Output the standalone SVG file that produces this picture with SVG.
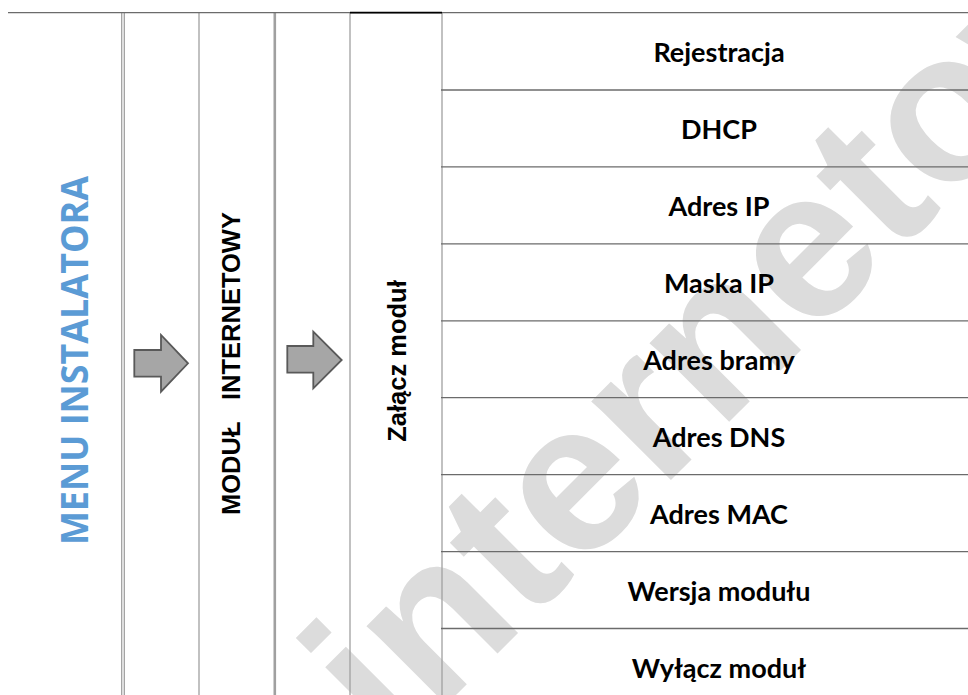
<svg xmlns="http://www.w3.org/2000/svg" width="968" height="695" viewBox="0 0 968 695">
<style>
.vl{stroke:#a0a0a0;stroke-width:1.3;fill:none}
.hl{stroke:#6b6b6b;stroke-width:1.3;fill:none}
.item{font-family:"Lato","Open Sans",sans-serif;font-weight:bold;font-size:27px;fill:#000;text-anchor:middle}
.vt{font-family:"Liberation Sans",Arial,sans-serif;font-weight:bold;font-size:25.5px;fill:#000}
.arrow{fill:#a6a6a6;stroke:#595959;stroke-width:1.8;stroke-linejoin:miter}
.wm{font-family:"Liberation Sans",Arial,sans-serif;font-weight:bold;font-size:212px;fill:#dcdcdc}
</style>
<rect width="968" height="695" fill="#fff"/>
<g id="watermark">
<text class="wm" transform="translate(394,757) rotate(-45)">internetowy</text>
</g>
<g id="grid">
<line class="vl" x1="121.7" y1="13" x2="121.7" y2="695"/>
<line class="vl" x1="124.3" y1="13" x2="124.3" y2="695"/>
<line class="vl" x1="199" y1="13" x2="199" y2="695"/>
<line class="vl" x1="274.8" y1="13" x2="274.8" y2="695" style="stroke-width:2.6"/>
<line class="vl" x1="350" y1="13" x2="350" y2="695"/>
<line class="vl" x1="442" y1="13" x2="442" y2="695"/>
<line class="hl" x1="8" y1="12.7" x2="968" y2="12.7"/>
<line x1="350" y1="12.6" x2="442" y2="12.6" stroke="#000" stroke-width="1.8"/>
<line class="hl" x1="441" y1="90" x2="968" y2="90"/>
<line class="hl" x1="441" y1="166.9" x2="968" y2="166.9"/>
<line class="hl" x1="441" y1="243.9" x2="968" y2="243.9"/>
<line class="hl" x1="441" y1="320.8" x2="968" y2="320.8"/>
<line class="hl" x1="441" y1="397.7" x2="968" y2="397.7"/>
<line class="hl" x1="441" y1="474.6" x2="968" y2="474.6"/>
<line class="hl" x1="441" y1="551.6" x2="968" y2="551.6"/>
<line class="hl" x1="441" y1="628.5" x2="968" y2="628.5"/>
</g>
<g id="menu-instalatora">
<text transform="translate(88,360.5) rotate(-90)" text-anchor="middle" font-family="'Open Sans','Noto Sans',sans-serif" font-weight="bold" font-size="37" fill="#5b9bd5" textLength="369" lengthAdjust="spacingAndGlyphs">MENU INSTALATORA</text>
</g>
<g id="connectors">
<path class="arrow" d="M134.3,350 L161,350 L161,335 L188,363.3 L161,391.7 L161,376.7 L134.3,376.7 Z"/>
<path class="arrow" d="M287.3,346 L313.3,346 L313.3,331.7 L341.7,360 L313.3,388.3 L313.3,372.7 L287.3,372.7 Z"/>
</g>
<g id="modul-internetowy">
<text class="vt" transform="translate(240,400) rotate(-90)">INTERNETOWY</text>
<text class="vt" transform="translate(240,515) rotate(-90)">MODUŁ</text>
</g>
<g id="zalacz-modul">
<text class="vt" transform="translate(406,361) rotate(-90)" text-anchor="middle">Załącz moduł</text>
</g>
<g id="items">
<g id="rejestracja"><text class="item" x="719" y="62">Rejestracja</text></g>
<g id="dhcp"><text class="item" x="719" y="139">DHCP</text></g>
<g id="adres-ip"><text class="item" x="719" y="216">Adres IP</text></g>
<g id="maska-ip"><text class="item" x="719" y="293">Maska IP</text></g>
<g id="adres-bramy"><text class="item" x="719" y="370">Adres bramy</text></g>
<g id="adres-dns"><text class="item" x="719" y="447">Adres DNS</text></g>
<g id="adres-mac"><text class="item" x="719" y="524">Adres MAC</text></g>
<g id="wersja-modulu"><text class="item" x="719" y="601">Wersja modułu</text></g>
<g id="wylacz-modul"><text class="item" x="719" y="678">Wyłącz moduł</text></g>
</g>
</svg>
